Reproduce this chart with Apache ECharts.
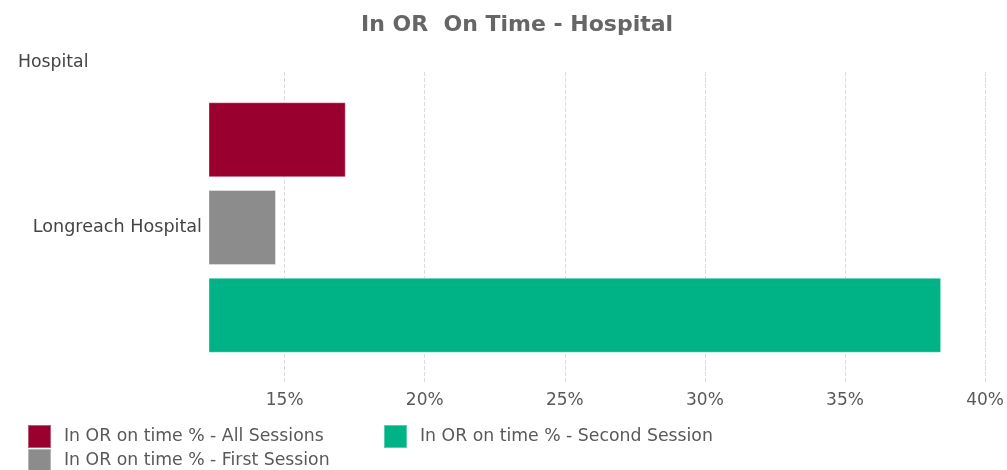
<!DOCTYPE html>
<html>
<head>
<meta charset="utf-8">
<script src="https://cdn.jsdelivr.net/npm/echarts@6/dist/echarts.min.js"></script>
<style>
html,body{margin:0;padding:0;background:#fff;}
#c{width:1007px;height:470px;}
</style>
</head>
<body>
<div id="c"></div>
<script>
const categories = ['Longreach Hospital'];
const seriesNames = ['In OR on time % - All Sessions', 'In OR on time % - First Session', 'In OR on time % - Second Session'];
const allSessions = [17.18];
const firstSession = [14.69];
const secondSession = [38.43];
const colors = ['#99002f', '#8c8c8c', '#00b386'];

const chart = echarts.init(document.getElementById('c'), null, {renderer: 'canvas'});
const FONT = 'DejaVu Sans';
const barStyle = (c) => ({color: c, borderColor: 'rgba(255,255,255,0.35)', borderWidth: 1});
const legendText = {fontFamily: FONT, fontSize: 17.3, color: '#595959', padding: [0, 0, 0, 8]};
const mkLegend = (name, left, top) => ({
  data: [name], orient: 'horizontal', left: left, top: top, padding: 0,
  itemGap: 0, itemWidth: 23, itemHeight: 23, icon: 'rect', textStyle: legendText
});

chart.setOption({
  animation: false,
  backgroundColor: '#fff',
  title: [
    {text: 'In OR  On Time - Hospital', left: 356, top: 9,
     textStyle: {fontFamily: FONT, fontSize: 22, fontWeight: 'bold', color: '#666'}},
    {text: 'Hospital', left: 13, top: 49,
     textStyle: {fontFamily: FONT, fontSize: 17.3, fontWeight: 'normal', color: '#444'}}
  ],
  legend: [
    mkLegend(seriesNames[0], 27, 424),
    mkLegend(seriesNames[1], 27, 448),
    mkLegend(seriesNames[2], 383, 424)
  ],
  grid: {left: 209, right: 18, top: 72, bottom: 87, containLabel: false},
  xAxis: {
    type: 'value', min: 12.3, max: 40,
    axisLine: {show: false}, axisTick: {show: false},
    axisLabel: {showMinLabel: false, formatter: v => v + '%', fontFamily: FONT, fontSize: 17, color: '#595959', margin: 9},
    splitLine: {show: true, showMinLine: false, lineStyle: {type: 'dashed', color: '#dcdcdc', width: 1}}
  },
  yAxis: {
    type: 'category', data: categories, inverse: true,
    axisLine: {show: false}, axisTick: {show: false},
    axisLabel: {fontFamily: FONT, fontSize: 17.6, color: '#444', margin: 7}
  },
  series: [
    {name: seriesNames[0], type: 'bar', data: allSessions, barWidth: 75, barGap: '17%', itemStyle: barStyle(colors[0])},
    {name: seriesNames[1], type: 'bar', data: firstSession, barWidth: 75, barGap: '17%', itemStyle: barStyle(colors[1])},
    {name: seriesNames[2], type: 'bar', data: secondSession, barWidth: 75, barGap: '17%', itemStyle: barStyle(colors[2])}
  ]
});
</script>
</body>
</html>
